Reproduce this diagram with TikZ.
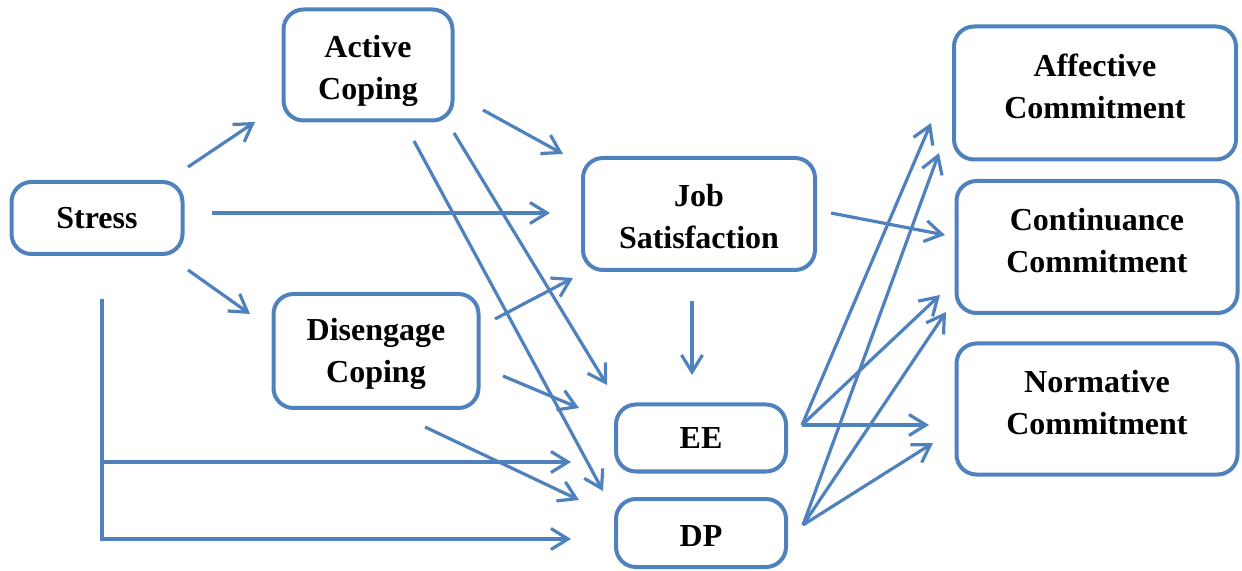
\documentclass[tikz,border=0pt]{standalone}
\usepackage{fontspec}
\setmainfont{Liberation Serif}
\usetikzlibrary{arrows.meta}
\definecolor{bleu}{RGB}{79,129,189}
\newcommand{\calage}[1]{\rule{0pt}{#1}}

\tikzset{boite/.style 2 args = {draw=bleu, line width=2pt, rounded corners=10pt,
                                minimum width=#1, minimum height=#2, inner sep=0pt,
                                align=center, font=\fontsize{16}{21}\selectfont\bfseries},
         monte/.style = {execute at end node={\rule[-#1]{0pt}{0pt}}},
         fleche/.style = {draw=bleu, line width=1.6pt,
                          -{Straight Barb[length=8.5pt,width=10.5pt,line width=1.6pt]}}
        }

\begin{document}
\begin{tikzpicture}[x=0.5pt, y=-0.5pt]
  \useasboundingbox (0,0) rectangle (1242,571);
  % les boites
  \node[boite={85.5pt}{36pt}]   (stress) at (97,218)  {Stress};
  \node[boite={84.5pt}{55.5pt}] (actif)  at (368,65)  {\calage{17pt}Active\\Coping};
  \node[boite={102.5pt}{57pt}]  (desen)  at (376,351) {\calage{14.5pt}Disengage\\Coping};
  \node[boite={116pt}{56pt}]    (satis)  at (699,214) {\calage{14pt}Job\\Satisfaction};
  \node[boite={85pt}{33.5pt}]   (ee)     at (701,438) {EE};
  \node[boite={85pt}{34pt}]     (dp)     at (701,533) {\calage{13.5pt}DP};
  \node[boite={141pt}{66.5pt}, monte=7pt] (affec) at (1095,93) {Affective\\Commitment};
  \node[boite={140.5pt}{66pt}, monte=7pt] (conti) at (1097,247) {Continuance\\Commitment};
  \node[boite={140.5pt}{65.5pt}, monte=7pt] (norma) at (1097,409) {Normative\\Commitment};

  % bouts des fleches
  \coordinate (st-ac) at (188,167); \coordinate (ac-in) at (255,122);
  \coordinate (st-sa) at (212,213); \coordinate (sa-in) at (550,213);
  \coordinate (st-de) at (188,270); \coordinate (de-in) at (250,314);
  \coordinate (ac-sa) at (483,110); \coordinate (sa-ac) at (563,154);
  \coordinate (ac-ee) at (454,133); \coordinate (ee-ac) at (607,385);
  \coordinate (ac-dp) at (414,141); \coordinate (dp-ac) at (603,491);
  \coordinate (de-sa) at (495,319); \coordinate (sa-de) at (573,278);
  \coordinate (de-ee) at (503,376); \coordinate (ee-de) at (579,408);
  \coordinate (de-dp) at (425,427); \coordinate (dp-de) at (579,500);
  \coordinate (st-haut) at (102,299); \coordinate (st-bas) at (102,539);
  \coordinate (st-ee) at (102,462); \coordinate (ee-st) at (571,462);
  \coordinate (dp-st) at (571,539);
  \coordinate (sa-ee) at (692,301); \coordinate (ee-sa) at (692,375);
  \coordinate (sa-co) at (831,213); \coordinate (co-sa) at (945,235);
  \coordinate (ee-out) at (802,425); \coordinate (dp-out) at (803,525);
  \coordinate (af-ee) at (931,123); \coordinate (af-dp) at (939,153);
  \coordinate (co-ee) at (940,295); \coordinate (co-dp) at (946,312);
  \coordinate (no-ee) at (929,425); \coordinate (no-dp) at (933,443);

  % les fleches
  \draw[fleche] (st-ac) -- (ac-in);
  \draw[fleche] (st-sa) -- (sa-in);
  \draw[fleche] (st-de) -- (de-in);
  \draw[fleche] (ac-sa) -- (sa-ac);
  \draw[fleche] (ac-ee) -- (ee-ac);
  \draw[fleche] (ac-dp) -- (dp-ac);
  \draw[fleche] (de-sa) -- (sa-de);
  \draw[fleche] (de-ee) -- (ee-de);
  \draw[fleche] (de-dp) -- (dp-de);
  \draw[fleche] (st-haut) -- (st-bas) -- (dp-st);
  \draw[fleche] (st-ee) -- (ee-st);
  \draw[fleche] (sa-ee) -- (ee-sa);
  \draw[fleche] (sa-co) -- (co-sa);
  \foreach \cible in {af-ee, co-ee, no-ee}
    \draw[fleche] (ee-out) -- (\cible);
  \foreach \cible in {af-dp, co-dp, no-dp}
    \draw[fleche] (dp-out) -- (\cible);
\end{tikzpicture}
\end{document}
